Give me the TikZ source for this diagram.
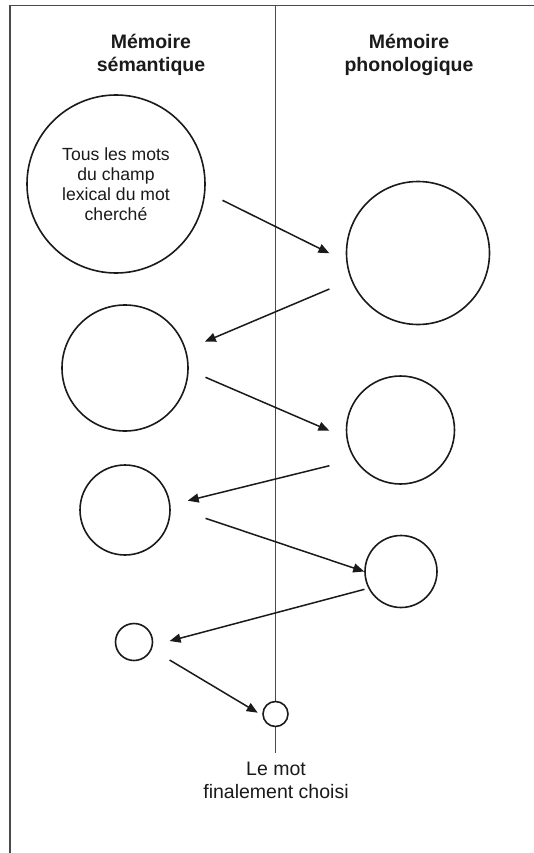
\documentclass[tikz,border=0pt]{standalone}
\usepackage{fontspec}
\setmainfont{Liberation Sans}
\usetikzlibrary{arrows.meta}
\definecolor{ink}{HTML}{1A1A1A}
\definecolor{rule}{HTML}{4A4A4A}
\begin{document}
\begin{tikzpicture}[x=1pt,y=-1pt,
  circ/.style={circle, draw=ink, line width=1.6pt, fill=white, inner sep=0pt},
  arr/.style={draw=ink, line width=1.5pt, -{Triangle[length=11pt,width=9pt]}},
  head/.style={font=\fontsize{19.5}{23}\selectfont\bfseries, align=center, text=ink},
  lbl/.style={font=\fontsize{19.5}{23}\selectfont, align=center, text=ink},
  intext/.style={font=\fontsize{17.6}{20}\selectfont, align=center, text=ink},
  framerule/.style={draw=rule, line width=1.6pt},
  divider/.style={draw=rule, line width=1.1pt}]
\useasboundingbox (0,0) rectangle (534,853);
\fill[white] (0,0) rectangle (534,853);
% frame
\coordinate (fbl) at (10,853);
\coordinate (ftl) at (10,5.5);
\coordinate (ftr) at (534,5.5);
\draw[framerule] (fbl) -- (ftl) -- (ftr);
% divider
\coordinate (dtop) at (275.5,5.5);
\coordinate (dbot) at (275.5,753);
\draw[divider] (dtop) -- (dbot);
% headers
\node[head] (hsem) at (151,55) {Mémoire\\sémantique};
\node[head] (hpho) at (409,55) {Mémoire\\phonologique};
% circles
\node[circ, minimum size=178pt, intext] (c1) at (116,184) {Tous les mots\\du champ\\lexical du mot\\cherché};
\node[circ, minimum size=143pt] (c2) at (418,253) {};
\node[circ, minimum size=126pt] (c3) at (125,368) {};
\node[circ, minimum size=108pt] (c4) at (400.5,430) {};
\node[circ, minimum size=90pt] (c5) at (125,510) {};
\node[circ, minimum size=72pt] (c6) at (401,571.5) {};
\node[circ, minimum size=37pt] (c7) at (134,642) {};
\node[circ, minimum size=25pt] (c8) at (275.5,714) {};
% label
\node[lbl] (final) at (276,780) {Le mot\\finalement choisi};
% arrow endpoints
\coordinate (s1) at (222.5,200.3); \coordinate (t1) at (329.4,253.3);
\coordinate (s2) at (329.4,289);   \coordinate (t2) at (204.8,341.7);
\coordinate (s3) at (205.5,377.3); \coordinate (t3) at (329.4,430.7);
\coordinate (s4) at (329.4,465.7); \coordinate (t4) at (187.7,500.7);
\coordinate (s5) at (205.5,518.3);
\coordinate (s6) at (364.5,589.3); \coordinate (t6) at (169.6,641);
\coordinate (s7) at (169.6,660);   \coordinate (t7) at (257.7,712.7);
\draw[arr] (s1) -- (t1);
\draw[arr] (s2) -- (t2);
\draw[arr] (s3) -- (t3);
\draw[arr] (s4) -- (t4);
\draw[arr] (s5) -- (c6.west);
\draw[arr] (s6) -- (t6);
\draw[arr] (s7) -- (t7);
\end{tikzpicture}
\end{document}
